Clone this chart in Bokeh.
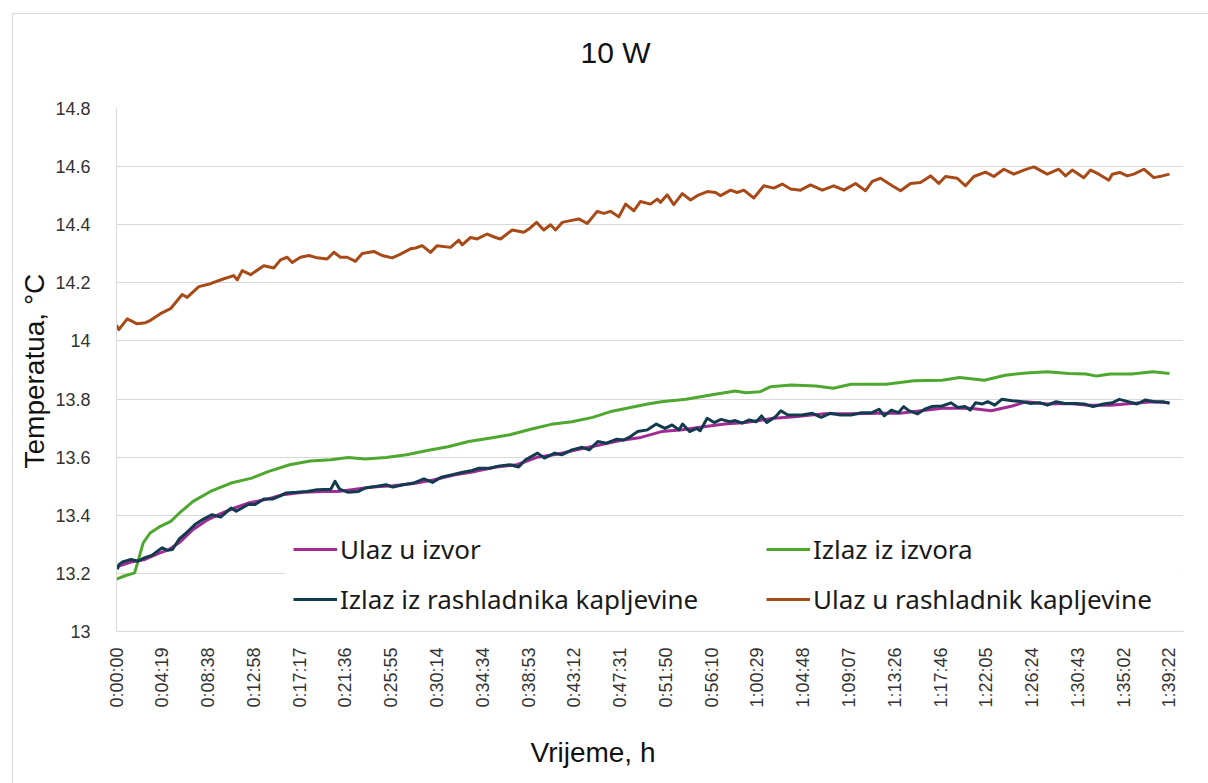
import math
from bokeh.plotting import figure
from bokeh.models import Range1d, FixedTicker, Legend, LegendItem, Title, ColumnDataSource
from bokeh.embed import file_html
from bokeh.resources import INLINE

# ---------------- data ----------------
title_text = "10 W"
x_title = "Vrijeme, h"
y_title = "Temperatua, °C"

x_labels = ["0:00:00", "0:04:19", "0:08:38", "0:12:58", "0:17:17", "0:21:36", "0:25:55",
            "0:30:14", "0:34:34", "0:38:53", "0:43:12", "0:47:31", "0:51:50", "0:56:10",
            "1:00:29", "1:04:48", "1:09:07", "1:13:26", "1:17:46", "1:22:05", "1:26:24",
            "1:30:43", "1:35:02", "1:39:22"]
y_ticks = [13.0, 13.2, 13.4, 13.6, 13.8, 14.0, 14.2, 14.4, 14.6, 14.8]
y_labels = ["13", "13.2", "13.4", "13.6", "13.8", "14", "14.2", "14.4", "14.6", "14.8"]

series_names = ["Ulaz u izvor", "Izlaz iz izvora",
                "Izlaz iz rashladnika kapljevine", "Ulaz u rashladnik kapljevine"]

# time in minutes, temperature in °C
ulaz_izvor_t = [0.0, 1.38, 2.68, 3.98, 4.96, 5.93, 7.23, 8.53, 9.83, 11.13, 12.43, 14.06, 15.68,
                17.63, 19.58, 20.88, 22.18, 24.13, 26.08, 28.03, 29.98, 31.93, 33.88, 35.83,
                37.78, 39.73, 41.68, 43.63, 45.58, 47.53, 49.48, 51.44, 53.42, 55.41, 57.39,
                59.38, 62.03, 64.01, 66.66, 69.31, 71.96, 73.94, 75.93, 77.92, 80.56, 82.55,
                84.54, 85.86, 87.85, 89.83, 91.82, 93.80, 95.79, 97.78, 99.37]
ulaz_izvor_v = [13.223, 13.239, 13.248, 13.269, 13.282, 13.306, 13.351, 13.383, 13.406, 13.425,
                13.442, 13.454, 13.471, 13.479, 13.482, 13.482, 13.488, 13.497, 13.502, 13.509,
                13.522, 13.539, 13.551, 13.566, 13.574, 13.600, 13.611, 13.627, 13.642, 13.657,
                13.668, 13.688, 13.694, 13.705, 13.714, 13.719, 13.734, 13.739, 13.749, 13.749,
                13.751, 13.751, 13.760, 13.768, 13.768, 13.760, 13.776, 13.791, 13.783, 13.785,
                13.779, 13.779, 13.785, 13.791, 13.787]

izlaz_izvor_t = [0.0, 0.74, 1.71, 2.03, 2.52, 3.17, 4.14, 5.12, 5.94, 7.23, 8.86, 10.81, 12.76,
                 14.38, 16.34, 18.28, 20.23, 21.86, 23.48, 25.43, 27.38, 29.33, 31.28, 33.23,
                 35.18, 37.13, 39.08, 41.03, 42.98, 44.93, 46.55, 48.50, 50.13, 51.43, 53.75,
                 56.07, 58.39, 59.38, 60.71, 61.70, 63.68, 66.00, 67.65, 69.31, 72.62, 75.27,
                 77.91, 79.57, 81.89, 83.87, 85.86, 87.85, 89.83, 91.49, 92.48, 93.80, 95.79,
                 97.78, 99.37]
izlaz_izvor_v = [13.180, 13.191, 13.202, 13.242, 13.305, 13.339, 13.362, 13.379, 13.408, 13.448,
                 13.482, 13.511, 13.528, 13.551, 13.574, 13.587, 13.591, 13.599, 13.594, 13.599,
                 13.608, 13.623, 13.636, 13.654, 13.665, 13.677, 13.696, 13.713, 13.722, 13.737,
                 13.756, 13.771, 13.783, 13.791, 13.799, 13.814, 13.828, 13.822, 13.825, 13.842,
                 13.848, 13.845, 13.837, 13.851, 13.851, 13.863, 13.865, 13.874, 13.865, 13.882,
                 13.890, 13.894, 13.888, 13.886, 13.879, 13.886, 13.886, 13.894, 13.888]

izlaz_rashl_t = [0.08, 0.25, 0.57, 1.38, 2.03, 2.68, 3.33, 4.31, 4.80, 5.28, 5.93, 6.58, 7.40,
                 8.21, 9.02, 9.83, 10.81, 11.30, 12.43, 13.08, 13.90, 14.71, 15.36, 16.01, 16.98,
                 17.96, 18.93, 20.23, 20.62, 21.05, 21.86, 22.83, 23.48, 24.46, 25.43, 26.08,
                 27.06, 28.03, 29.01, 29.82, 30.63, 31.61, 32.58, 33.56, 34.21, 35.18, 36.16,
                 37.13, 37.95, 38.60, 39.73, 40.38, 41.36, 42.01, 42.98, 43.96, 44.61, 45.42,
                 46.23, 47.21, 47.86, 48.51, 49.16, 50.11, 50.94, 51.77, 52.43, 53.09, 53.42,
                 54.08, 54.75, 55.08, 55.74, 56.40, 57.06, 57.89, 58.39, 59.05, 59.71, 60.37,
                 60.87, 61.37, 62.19, 62.69, 63.35, 64.68, 65.67, 66.50, 67.32, 68.32, 69.31,
                 70.30, 71.30, 71.96, 72.45, 73.12, 73.78, 74.28, 74.77, 75.60, 76.26, 76.92,
                 77.92, 78.74, 79.41, 80.07, 80.56, 81.06, 81.72, 82.22, 82.88, 83.54, 84.54,
                 85.53, 86.19, 87.18, 87.85, 88.67, 89.50, 90.49, 91.32, 92.15, 93.14, 93.97,
                 94.63, 95.46, 96.29, 97.11, 97.94, 98.77, 99.37]
izlaz_rashl_v = [13.214, 13.231, 13.239, 13.248, 13.242, 13.254, 13.262, 13.288, 13.280, 13.282,
                 13.319, 13.339, 13.368, 13.387, 13.402, 13.394, 13.425, 13.414, 13.437, 13.437,
                 13.456, 13.456, 13.465, 13.477, 13.479, 13.482, 13.488, 13.490, 13.517, 13.490,
                 13.479, 13.482, 13.494, 13.499, 13.505, 13.497, 13.505, 13.511, 13.525, 13.513,
                 13.531, 13.539, 13.547, 13.554, 13.562, 13.562, 13.570, 13.574, 13.566, 13.591,
                 13.614, 13.597, 13.614, 13.608, 13.625, 13.634, 13.625, 13.654, 13.648, 13.662,
                 13.659, 13.671, 13.688, 13.694, 13.714, 13.699, 13.711, 13.694, 13.714, 13.688,
                 13.699, 13.691, 13.734, 13.719, 13.730, 13.722, 13.726, 13.717, 13.728, 13.722,
                 13.742, 13.719, 13.739, 13.760, 13.745, 13.745, 13.751, 13.737, 13.751, 13.745,
                 13.745, 13.753, 13.753, 13.765, 13.742, 13.762, 13.753, 13.774, 13.760, 13.749,
                 13.765, 13.774, 13.776, 13.787, 13.771, 13.774, 13.762, 13.787, 13.783, 13.791,
                 13.779, 13.799, 13.794, 13.791, 13.785, 13.787, 13.779, 13.791, 13.785, 13.785,
                 13.783, 13.774, 13.783, 13.787, 13.799, 13.791, 13.783, 13.797, 13.791, 13.791,
                 13.785]

ulaz_rashl_t = [0.0, 0.22, 1.01, 1.95, 2.74, 3.21, 4.15, 5.10, 6.20, 6.67, 7.77, 8.87, 10.13,
                11.07, 11.39, 11.86, 12.65, 13.90, 14.84, 15.48, 16.11, 16.58, 17.36, 18.15,
                18.94, 19.88, 20.51, 21.14, 21.77, 22.55, 23.19, 24.28, 25.07, 26.02, 26.80,
                27.74, 28.22, 28.85, 29.63, 30.26, 31.52, 32.30, 32.62, 33.41, 34.04, 34.98,
                35.77, 36.24, 37.34, 38.44, 38.91, 39.64, 40.32, 40.96, 41.43, 42.06, 42.84,
                43.63, 44.42, 45.36, 45.99, 46.62, 47.40, 48.04, 48.82, 49.45, 50.39, 51.03,
                51.34, 51.97, 52.59, 53.39, 54.17, 54.80, 55.75, 56.53, 57.00, 57.95, 58.58,
                59.20, 60.14, 61.09, 62.03, 62.82, 63.61, 64.55, 65.49, 66.60, 67.69, 68.64,
                69.74, 70.68, 71.32, 72.10, 73.20, 73.99, 74.93, 75.87, 76.82, 77.60, 78.23,
                79.34, 80.12, 80.91, 82.01, 82.79, 83.74, 84.68, 85.62, 86.57, 87.83, 88.92,
                89.56, 90.19, 91.28, 91.92, 92.70, 93.64, 93.97, 94.68, 95.38, 96.00, 96.95,
                97.89, 98.68, 99.37]
ulaz_rashl_v = [14.054, 14.039, 14.076, 14.059, 14.063, 14.071, 14.094, 14.111, 14.160, 14.150,
                14.187, 14.197, 14.214, 14.225, 14.210, 14.242, 14.228, 14.259, 14.251, 14.279,
                14.288, 14.270, 14.288, 14.294, 14.286, 14.282, 14.305, 14.288, 14.288, 14.274,
                14.301, 14.308, 14.294, 14.286, 14.299, 14.317, 14.320, 14.328, 14.305, 14.328,
                14.322, 14.347, 14.331, 14.356, 14.351, 14.368, 14.356, 14.351, 14.382, 14.374,
                14.385, 14.408, 14.382, 14.400, 14.382, 14.408, 14.414, 14.420, 14.404, 14.446,
                14.439, 14.446, 14.427, 14.471, 14.448, 14.480, 14.471, 14.488, 14.477, 14.503,
                14.469, 14.507, 14.485, 14.500, 14.514, 14.511, 14.500, 14.519, 14.511, 14.519,
                14.492, 14.534, 14.526, 14.540, 14.523, 14.519, 14.537, 14.519, 14.534, 14.519,
                14.542, 14.517, 14.549, 14.560, 14.534, 14.517, 14.542, 14.545, 14.568, 14.542,
                14.566, 14.560, 14.534, 14.566, 14.581, 14.566, 14.591, 14.574, 14.588, 14.599,
                14.574, 14.591, 14.568, 14.588, 14.562, 14.588, 14.574, 14.553, 14.574, 14.580,
                14.568, 14.574, 14.591, 14.562, 14.568, 14.574]

# ---------------- figure ----------------
def to_minutes(s):
    h, m, sec = (int(v) for v in s.split(":"))
    return h * 60 + m + sec / 60.0

x_ticks = [to_minutes(s) for s in x_labels]

p = figure(output_backend="svg", toolbar_location=None,
           frame_width=1067, frame_height=523,
           min_border_left=103, min_border_right=25, min_border_top=94, min_border_bottom=146,
           x_range=Range1d(0, 100.69), y_range=Range1d(13.0, 14.8),
           background_fill_color="white", border_fill_color="white")
p.outline_line_color = None
p.margin = (13, 0, 0, 12)
p.styles = {"border-left": "1px solid #d9d9d9", "border-top": "1px solid #d9d9d9"}

# axes
xa = p.xaxis[0]
xa.ticker = FixedTicker(ticks=x_ticks)
xa.major_label_overrides = {t: l for t, l in zip(x_ticks, x_labels)}
xa.major_label_orientation = math.pi / 2
xa.major_label_text_font = "Liberation Sans"
xa.major_label_text_font_size = "18px"
xa.major_label_text_color = "#333333"
xa.major_label_standoff = 10
xa.major_tick_line_color = None
xa.minor_tick_line_color = None
xa.axis_line_color = "#d9d9d9"
xa.axis_line_width = 1

ya = p.yaxis[0]
ya.ticker = FixedTicker(ticks=y_ticks)
ya.major_label_overrides = {t: l for t, l in zip(y_ticks, y_labels)}
ya.major_label_text_font = "Liberation Sans"
ya.major_label_text_font_size = "18px"
ya.major_label_text_color = "#333333"
ya.major_label_standoff = 20
ya.major_tick_line_color = None
ya.minor_tick_line_color = None
ya.axis_line_color = "#d9d9d9"
ya.axis_line_width = 1

p.xgrid.grid_line_color = None
p.ygrid.grid_line_color = "#d9d9d9"
p.ygrid.grid_line_width = 1
p.ygrid.ticker = FixedTicker(ticks=y_ticks)

# series
colors = ["#A02B93", "#4EA72E", "#133B50", "#A84A18"]
data = [(ulaz_izvor_t, ulaz_izvor_v), (izlaz_izvor_t, izlaz_izvor_v),
        (izlaz_rashl_t, izlaz_rashl_v), (ulaz_rashl_t, ulaz_rashl_v)]
renderers = []
for (t, v), c in zip(data, colors):
    src = ColumnDataSource(dict(t=t, v=v))
    r = p.line("t", "v", source=src, line_color=c, line_width=3, line_join="round")
    renderers.append(r)

legend = Legend(items=[
    LegendItem(label=series_names[0], renderers=[renderers[0]]),
    LegendItem(label=series_names[2], renderers=[renderers[2]]),
    LegendItem(label=series_names[1], renderers=[renderers[1]]),
    LegendItem(label=series_names[3], renderers=[renderers[3]]),
], orientation="vertical", nrows=2)
legend.location = (169, 2)
legend.padding = 8
legend.margin = 0
legend.spacing = 6
legend.glyph_width = 44
legend.glyph_height = 44
legend.label_height = 44
legend.label_width = 420
legend.label_standoff = 3
legend.label_text_font = "Noto Sans"
legend.label_text_font_size = "26px"
legend.label_text_color = "#1a1a1a"
legend.background_fill_color = "white"
legend.background_fill_alpha = 1.0
legend.border_line_alpha = 0
p.add_layout(legend, "center")

# spacer between frame and main title
p.add_layout(Title(text=" ", text_font_size="1px", standoff=32), "above")

# titles
p.title = Title(text=title_text, align="left", offset=464, standoff=10,
                text_font="Liberation Sans", text_font_size="30px",
                text_font_style="normal", text_color="#111111")
p.add_layout(Title(text=x_title, align="left", offset=414, standoff=48,
                   text_font="Liberation Sans", text_font_size="28px",
                   text_font_style="normal", text_color="#111111"), "below")
p.add_layout(Title(text=y_title, align="left", offset=163, standoff=5,
                   text_font="Liberation Sans", text_font_size="28px",
                   text_font_style="normal", text_color="#111111"), "left")

open("out.html", "w").write(file_html(p, INLINE))
